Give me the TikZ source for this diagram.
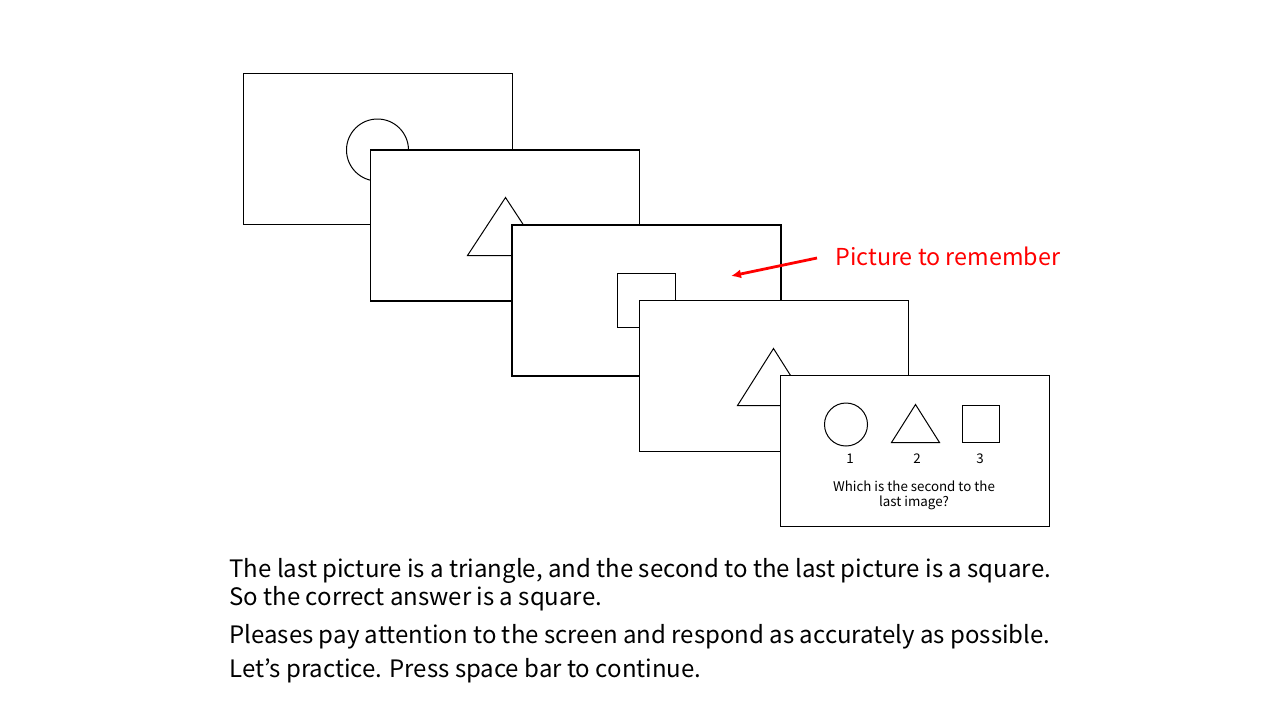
\documentclass[tikz,border=0pt]{standalone}
\usepackage{fontspec}
\setmainfont{Noto Sans CJK KR}
\usepackage{tikz}
\usetikzlibrary{arrows.meta}
\usetikzlibrary{calc}
\tikzstyle{screen} = [draw, fill=white,
	line width=0.55pt,
	inner sep=0pt,
	minimum width=134.5pt,
	minimum height=75.5pt]
\tikzstyle{figure} = [draw, line width=0.5pt, inner sep=0pt]
\tikzstyle{arrow} =[-{Latex[length=5pt, width=4.5pt]}, line width=1.4pt, red]
\tikzstyle{bigtext} = [inner sep=0pt, anchor=base west, align=left,
	font=\fontsize{12}{14}\selectfont]
\tikzstyle{smalltext} = [inner sep=0pt, font=\fontsize{6.67}{7.5}\selectfont]
\newcommand{\drawtri}[4]{\draw[figure] ($ #2 + (-#3, #4) $) -- ($ #2 + (0, -#4) $) -- ($ #2 + (#3, #4) $) -- cycle
	coordinate (#1) at #2}

\begin{document}
\begin{tikzpicture}[x=0.5pt, y=-0.5pt]
			\useasboundingbox (0, 0) rectangle (1280, 720);
			
			\node (s1) [screen] at (378, 149) {};
			\node (c1) [figure, circle, minimum size=31pt] at (377.5, 150) {};
			
			\node (s2) [screen] at (505, 225.5) {};
			\drawtri{t2}{(505.5, 226.5)}{38}{29};
			
			\node (s3) [screen] at (646.5, 300.5) {};
			\node (q3) [figure, minimum width=29pt, minimum height=27pt] at (646.5, 300.5) {};
			
			\node (s4) [screen] at (774, 376) {};
			\drawtri{t4}{(773.5, 377)}{36}{28.5};
			
			\node (s5) [screen] at (915, 451) {};
			\node (c5) [figure, circle, minimum size=21.5pt] at (846, 424.5) {};
			\drawtri{t5}{(915.5, 423.5)}{24}{19};
			\node (q5) [figure, minimum size=18.5pt] at (981, 424) {};
			\node (n1) [smalltext] at (850, 459) {1};
			\node (n2) [smalltext] at (917, 459) {2};
			\node (n3) [smalltext] at (980, 459) {3};
			\node (ask) [smalltext, align=center] at (914, 495.5) {Which is the second to the\\last image?};
			
			\node (lbl) [inner sep=0pt, anchor=west, text=red, font=\fontsize{11.66}{14}\selectfont] at (835, 256) {Picture to remember};
			\coordinate (tip) at (731, 276);
			\draw [arrow] ([xshift=-9pt, yshift=-1pt] lbl.west) -- (tip);
			
			\node (line1) [bigtext] at (229, 605) {The last picture is a triangle, and the second to the last picture is a square.\\So the correct answer is a square.};
			\node (line3) [bigtext] at (229, 643) {Pleases pay attention to the screen and respond as accurately as possible.};
			\node (line4) [bigtext] at (229, 677) {Let’s practice. Press space bar to continue.};
			
		\end{tikzpicture}
\end{document}
